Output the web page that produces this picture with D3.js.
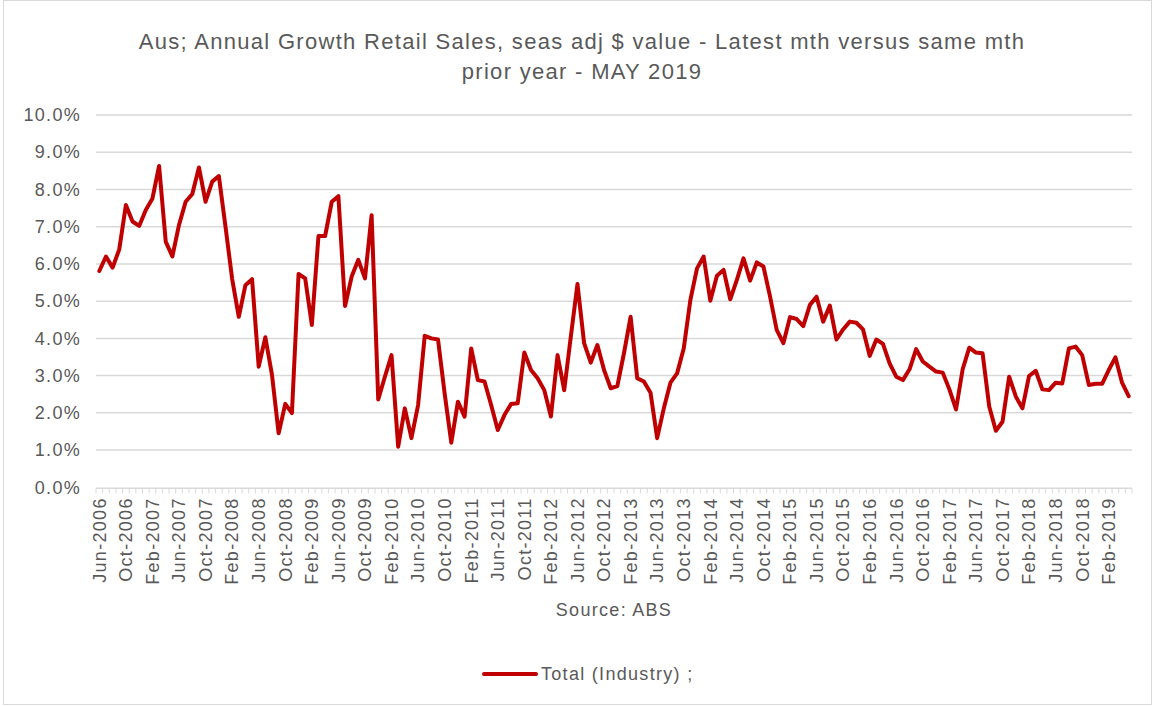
<!DOCTYPE html>
<html>
<head>
<meta charset="utf-8">
<script src="https://cdn.jsdelivr.net/npm/d3@7"></script>
<style>
  html, body { margin: 0; padding: 0; background: #fff; }
  svg { display: block; font-family: "Liberation Sans", Arial, sans-serif; }
  text { letter-spacing: 1.3px; }
</style>
</head>
<body>
<svg id="chart" width="1155" height="706"></svg>
<script>
// ---- data ----
const titleLines = ["Aus; Annual Growth Retail Sales, seas adj $ value - Latest mth versus same mth",
                    "prior year - MAY 2019"];
const seriesName = "Total (Industry) ;";
const sourceText = "Source: ABS";
const monthNames = ["Jan","Feb","Mar","Apr","May","Jun","Jul","Aug","Sep","Oct","Nov","Dec"];
// categories: Jun-2006 .. May-2019 (monthly, 156 months)
const categories = [];
for (let k = 0; k < 156; k++) {
  const mm = (5 + k) % 12, yy = 2006 + Math.floor((5 + k) / 12);
  categories.push(monthNames[mm] + "-" + yy);
}

// annual growth, %
const growth = [
  5.81, 6.20, 5.90, 6.39, 7.58, 7.14, 7.02, 7.45, 7.76, 8.63,
  6.60, 6.20, 7.05, 7.67, 7.88, 8.59, 7.67, 8.21, 8.36, 7.00,
  5.60, 4.58, 5.43, 5.59, 3.24, 4.03, 3.02, 1.45, 2.24, 1.99,
  5.73, 5.61, 4.36, 6.75, 6.75, 7.67, 7.82, 4.87, 5.66, 6.11,
  5.61, 7.31, 2.36, 2.97, 3.55, 1.09, 2.12, 1.32, 2.21, 4.07,
  4.00, 3.97, 2.52, 1.20, 2.30, 1.90, 3.73, 2.88, 2.84, 2.21,
  1.54, 1.94, 2.24, 2.26, 3.62, 3.15, 2.93, 2.61, 1.90, 3.55,
  2.61, 4.05, 5.46, 3.87, 3.35, 3.82, 3.15, 2.66, 2.72, 3.60,
  4.58, 2.93, 2.84, 2.54, 1.32, 2.12, 2.81, 3.06, 3.73, 5.03,
  5.88, 6.20, 5.01, 5.68, 5.84, 5.05, 5.57, 6.15, 5.55, 6.04,
  5.93, 5.12, 4.23, 3.87, 4.57, 4.52, 4.33, 4.90, 5.12, 4.45,
  4.88, 3.97, 4.24, 4.45, 4.42, 4.24, 3.53, 3.97, 3.85, 3.33,
  2.97, 2.88, 3.17, 3.71, 3.38, 3.24, 3.11, 3.08, 2.63, 2.09,
  3.17, 3.75, 3.62, 3.60, 2.17, 1.52, 1.76, 2.97, 2.44, 2.12,
  2.99, 3.13, 2.63, 2.61, 2.81, 2.79, 3.73, 3.78, 3.55, 2.75,
  2.78, 2.78, 3.15, 3.49, 2.81, 2.45
];
const yTicks = [0, 1, 2, 3, 4, 5, 6, 7, 8, 9, 10];
const xTickLabels = categories.filter((d, i) => i % 4 === 0);

// ---- layout ----
const svg = d3.select("#chart");
const W = 1155, H = 706;
const plot = { left: 96, right: 1132, top: 115, bottom: 487.3 };
const textColor = "#595959";
const gridColor = "#d9d9d9";
const lineColor = "#c00000";

svg.append("rect").attr("x", 3.5).attr("y", 0.5).attr("width", W - 7).attr("height", H - 2)
  .attr("fill", "#fff").attr("stroke", gridColor).attr("stroke-width", 1);

const x = d3.scaleBand().domain(categories).range([plot.left, plot.right]).padding(0);
const y = d3.scaleLinear().domain([0, 10]).range([plot.bottom, plot.top]);

// title
const title = svg.append("text").attr("fill", textColor).attr("font-size", 22)
  .attr("text-anchor", "middle");
titleLines.forEach((t, i) => {
  title.append("tspan").attr("x", 582).attr("y", 49 + i * 30).text(t);
});

// gridlines
svg.append("g").selectAll("line").data(yTicks.filter(d => d > 0)).join("line")
  .attr("x1", plot.left).attr("x2", plot.right)
  .attr("y1", d => y(d)).attr("y2", d => y(d))
  .attr("stroke", gridColor).attr("stroke-width", 1.5);

// y axis labels
const yAxis = d3.axisLeft(y).tickValues(yTicks).tickFormat(d => d.toFixed(1) + "%").tickSize(0).tickPadding(15);
const gy = svg.append("g").attr("transform", `translate(${plot.left},0)`).call(yAxis);
gy.select(".domain").remove();
gy.selectAll("text").attr("fill", textColor).attr("font-size", 18)
  .attr("font-family", "Liberation Sans, Arial, sans-serif");

// x axis: line + ticks at category boundaries
const gx = svg.append("g");
gx.append("line").attr("x1", plot.left).attr("x2", plot.right)
  .attr("y1", plot.bottom + 1).attr("y2", plot.bottom + 1)
  .attr("stroke", gridColor).attr("stroke-width", 1.5);
const boundaries = categories.map(c => x(c)).concat([plot.right]);
gx.selectAll("line.tk").data(boundaries).join("line").attr("class", "tk")
  .attr("x1", d => d).attr("x2", d => d)
  .attr("y1", plot.bottom + 1).attr("y2", plot.bottom + 6)
  .attr("stroke", gridColor).attr("stroke-width", 1);

gx.selectAll("text.xl").data(xTickLabels).join("text").attr("class", "xl")
  .attr("transform", d => `translate(${x(d) + x.bandwidth() / 2},${plot.bottom + 10}) rotate(-90)`)
  .attr("text-anchor", "end").attr("dy", "0.35em")
  .attr("fill", textColor).attr("font-size", 18).text(d => d);

// source
svg.append("text").attr("x", 614).attr("y", 616).attr("text-anchor", "middle")
  .attr("fill", textColor).attr("font-size", 18).text(sourceText);

// line
const line = d3.line()
  .x((d, i) => x(categories[i]) + x.bandwidth() / 2)
  .y(d => y(d));
svg.append("path").datum(growth).attr("d", line)
  .attr("fill", "none").attr("stroke", lineColor).attr("stroke-width", 4)
  .attr("stroke-linejoin", "round").attr("stroke-linecap", "round");

// legend
const lg = svg.append("g").attr("transform", "translate(0,674)");
lg.append("line").attr("x1", 484).attr("x2", 536).attr("y1", 0).attr("y2", 0)
  .attr("stroke", lineColor).attr("stroke-width", 4).attr("stroke-linecap", "round");
lg.append("text").attr("x", 541).attr("y", 0).attr("dy", "0.35em")
  .attr("fill", textColor).attr("font-size", 18).text(seriesName);
</script>
</body>
</html>
